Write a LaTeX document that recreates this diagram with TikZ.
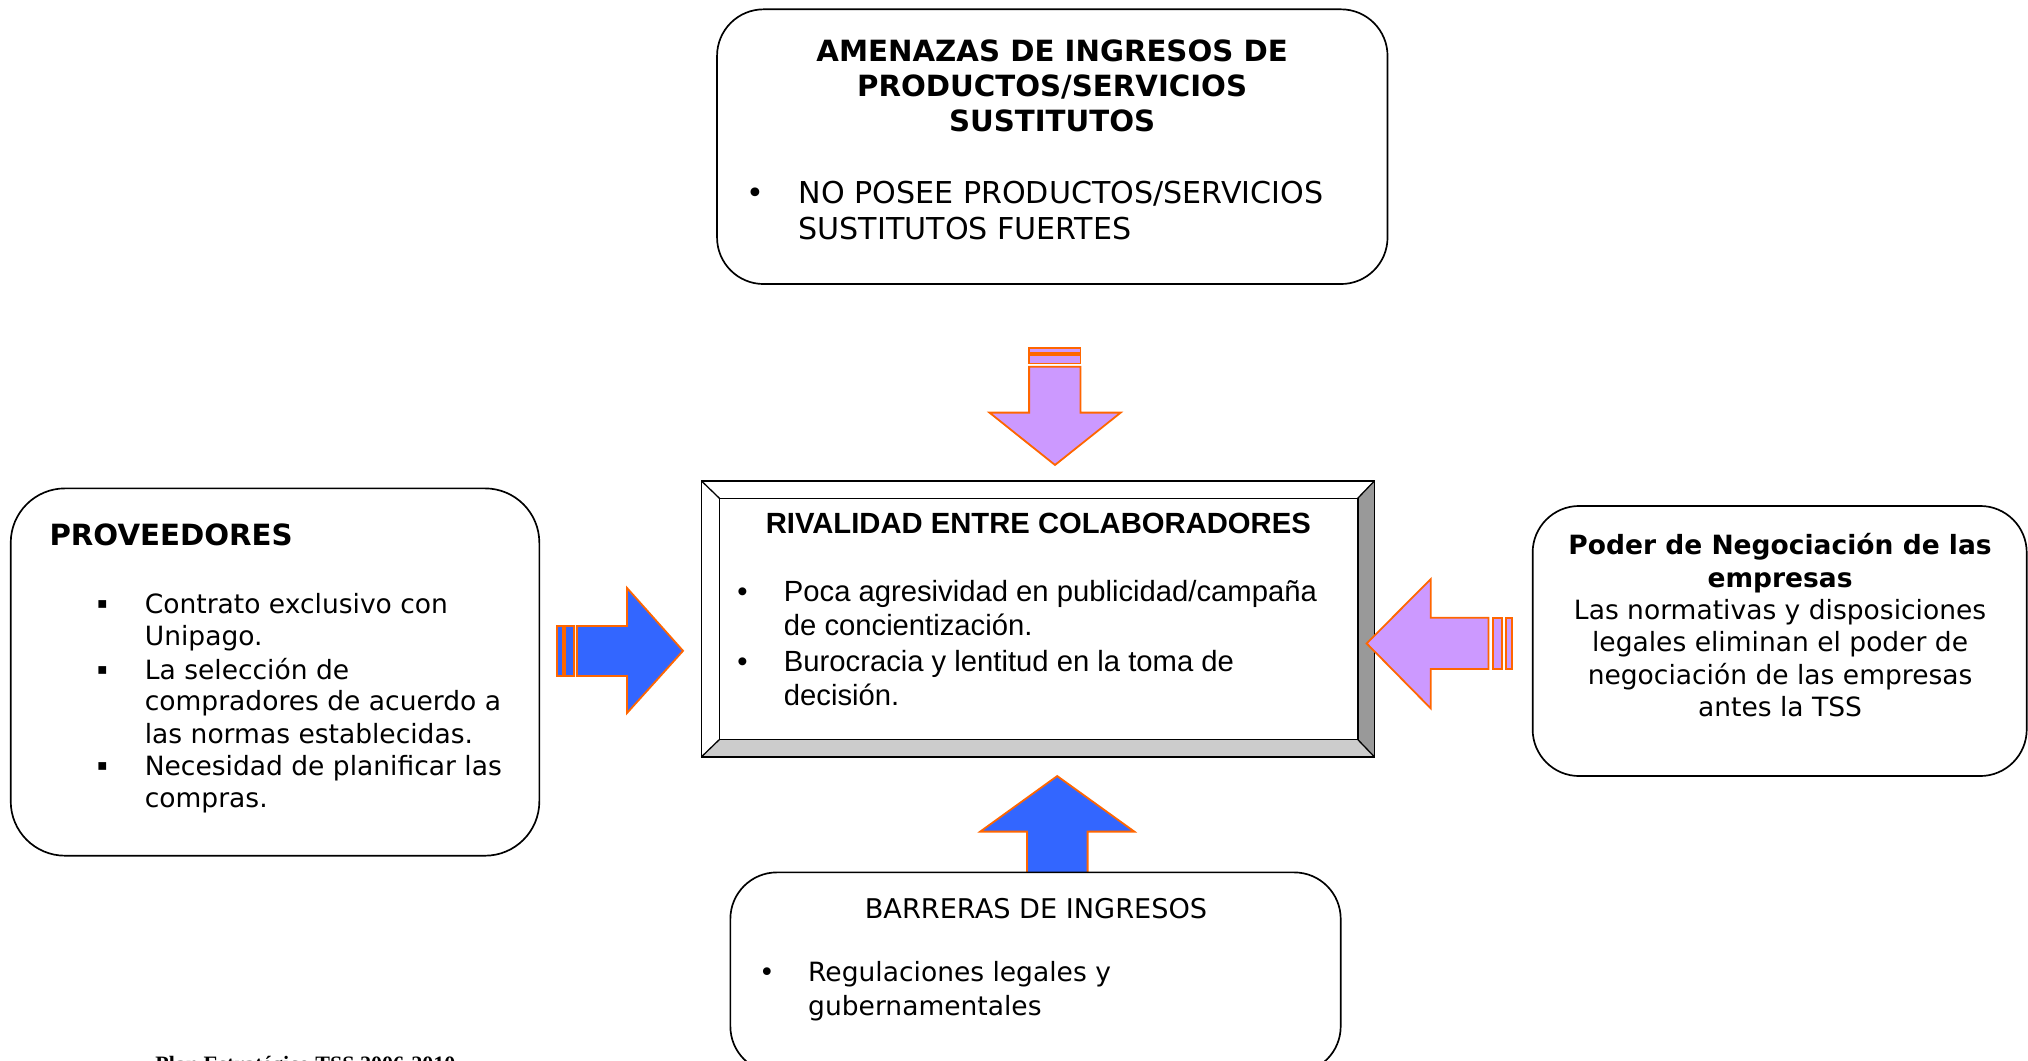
\documentclass[tikz,border=0pt]{standalone}
\usepackage{fontspec}
\setmainfont{DejaVu Sans}
\newfontfamily\arialf{Liberation Sans}
\newfontfamily\timesf{Liberation Serif}
\definecolor{arrowor}{HTML}{FF6600}
\definecolor{lilac}{HTML}{CC99FF}
\definecolor{royal}{HTML}{3366FF}
\definecolor{bevdark}{HTML}{999999}
\definecolor{bevlight}{HTML}{CCCCCC}
\begin{document}
\begin{tikzpicture}[x=1pt,y=-1pt,
  rbox/.style={draw=black, line width=1.3pt, rounded corners=36pt, fill=white, inner sep=0pt},
  tx/.style={inner sep=0pt, anchor=base west},
  txc/.style={inner sep=0pt, anchor=base},
  body/.style={font=\fontsize{20.5}{25}\selectfont},
  topbody/.style={font=\fontsize{23.3}{28}\selectfont},
  ttl/.style={font=\fontsize{22.6}{27}\selectfont\bfseries},
  ctr/.style={font=\arialf\fontsize{22.6}{26}\selectfont},
  sqbullet/.style={inner sep=0pt, anchor=center, font=\fontsize{12}{14}\selectfont},
  blkarrow/.style={draw=arrowor, line width=1.4pt, line join=miter},
  purplearrow/.style={blkarrow, fill=lilac},
  bluearrow/.style={blkarrow, fill=royal}]
\useasboundingbox (0,0) rectangle (1568,820);

% ---------- top box ----------
\node[rbox, minimum width=518.4pt, minimum height=212.4pt] (top) at (813.6,113.4) {};
\node[txc, ttl] (t1) at (813.5,47.7) {AMENAZAS DE INGRESOS DE};
\node[txc, ttl] (t2) at (813.5,74.8) {PRODUCTOS/SERVICIOS};
\node[txc, ttl] (t3) at (813.5,101.8) {SUSTITUTOS};
\node[inner sep=0pt, anchor=base, topbody] (tb) at (584.4,157.7) {•};
\node[tx, topbody] (t4) at (617.2,157.7) {NO POSEE PRODUCTOS/SERVICIOS};
\node[tx, topbody] (t5) at (617.2,185) {SUSTITUTOS FUERTES};

% ---------- left box ----------
\node[rbox, minimum width=408.7pt, minimum height=284pt, rounded corners=42pt] (prov) at (212.65,519.6) {};
\node[tx, ttl] (p0) at (38.1,421.9) {PROVEEDORES};
\foreach \yy in {474.2,525,599.7}
  \node[sqbullet] at (79.2,\yy-6.8) {▪};
\node[tx, body] (p1) at (111.8,474.2) {Contrato exclusivo con};
\node[tx, body] (p2) at (111.8,499.2) {Unipago.};
\node[tx, body] (p3) at (111.8,525) {La selección de};
\node[tx, body] (p4) at (111.8,549.5) {compradores de acuerdo a};
\node[tx, body] (p5) at (111.8,574.7) {las normas establecidas.};
\node[tx, body] (p6) at (111.8,599.7) {Necesidad de planificar las};
\node[tx, body] (p7) at (111.8,624.5) {compras.};

% ---------- right box ----------
\node[rbox, minimum width=382pt, minimum height=208.8pt] (poder) at (1376,495.6) {};
\node[txc, body, font=\fontsize{20.5}{25}\selectfont\bfseries] (r1) at (1376.3,429.1) {Poder de Negociación de las};
\node[txc, body, font=\fontsize{20.5}{25}\selectfont\bfseries] (r2) at (1376.3,454.1) {empresas};
\node[txc, body] (r3) at (1376.3,478.6) {Las normativas y disposiciones};
\node[txc, body] (r4) at (1376.3,503.9) {legales eliminan el poder de};
\node[txc, body] (r5) at (1376.3,529.1) {negociación de las empresas};
\node[txc, body] (r6) at (1376.3,554.1) {antes la TSS};

% ---------- centre bevelled box ----------
\node[inner sep=0pt, minimum width=520pt, minimum height=213pt] (cen) at (802.5,478.5) {};
\node[inner sep=0pt, minimum width=493pt, minimum height=186pt] (ceni) at (803,478.5) {};
\fill[white] (cen.north west) rectangle (cen.south east);
\fill[bevdark] (cen.north east) -- (cen.south east) -- (ceni.south east) -- (ceni.north east) -- cycle;
\fill[bevlight] (cen.south west) -- (cen.south east) -- (ceni.south east) -- (ceni.south west) -- cycle;
\draw[line width=1.3pt] (cen.north west) rectangle (cen.south east);
\draw[line width=1.3pt] (ceni.north west) rectangle (ceni.south east);
\draw[line width=1pt] (cen.north west) -- (ceni.north west)
  (cen.north east) -- (ceni.north east)
  (cen.south west) -- (ceni.south west)
  (cen.south east) -- (ceni.south east);
\node[txc, ctr, font=\arialf\fontsize{22.6}{26}\selectfont\bfseries] (c0) at (802.8,412.4) {RIVALIDAD ENTRE COLABORADORES};
\node[inner sep=0pt, anchor=base, ctr] at (574,465.2) {•};
\node[inner sep=0pt, anchor=base, ctr] at (574,519.3) {•};
\node[tx, ctr] (c1) at (605.9,465.2) {Poca agresividad en publicidad/campaña};
\node[tx, ctr] (c2) at (605.9,491) {de concientización.};
\node[tx, ctr] (c3) at (605.9,519.3) {Burocracia y lentitud en la toma de};
\node[tx, ctr] (c4) at (605.9,545.1) {decisión.};

% ---------- block arrows ----------
% top (down)
\draw[purplearrow] (795.7,269.3) rectangle (835.4,272.7);
\draw[purplearrow] (795.7,274.7) rectangle (835.4,281);
\draw[purplearrow] (795.7,283.5) -- (835.4,283.5) -- (835.4,319) -- (866.5,319)
  -- (815.7,359.5) -- (765,319) -- (795.7,319) -- cycle;
% left (right)
\draw[bluearrow] (430.7,484) rectangle (435.3,522.7);
\draw[bluearrow] (436.9,484) rectangle (443.8,522.7);
\draw[bluearrow] (446,484) -- (484.8,484) -- (484.8,454.6) -- (528.1,503.2)
  -- (484.8,551.3) -- (484.8,522.7) -- (446,522.7) -- cycle;
% right (left)
\draw[purplearrow] (1164.4,477.6) rectangle (1168.8,517.3);
\draw[purplearrow] (1154.1,477.6) rectangle (1161.6,517.3);
\draw[purplearrow] (1150.8,477.6) -- (1106.2,477.6) -- (1106.2,447.7) -- (1056.7,497.5)
  -- (1106.2,547.7) -- (1106.2,517.3) -- (1150.8,517.3) -- cycle;
% bottom (up)
\draw[bluearrow] (794,690) -- (794,643) -- (757.8,643) -- (817.4,600)
  -- (877.1,643) -- (840.9,643) -- (840.9,690);

% ---------- bottom box ----------
\node[rbox, minimum width=471.9pt, minimum height=155pt] (barr) at (800.65,752) {};
\node[txc, body, font=\fontsize{21}{25}\selectfont] (b0) at (801,710) {BARRERAS DE INGRESOS};
\node[inner sep=0pt, anchor=base, body] at (593,759) {•};
\node[tx, body] (b1) at (624.7,759) {Regulaciones legales y};
\node[tx, body] (b2) at (624.7,784.8) {gubernamentales};

% ---------- footer (cut by the page edge, as in the reference) ----------
\node[tx, font=\timesf\bfseries\fontsize{17}{20}\selectfont] (foot) at (120,828.5) {Plan Estratégico TSS 2006-2010};
\end{tikzpicture}
\end{document}
